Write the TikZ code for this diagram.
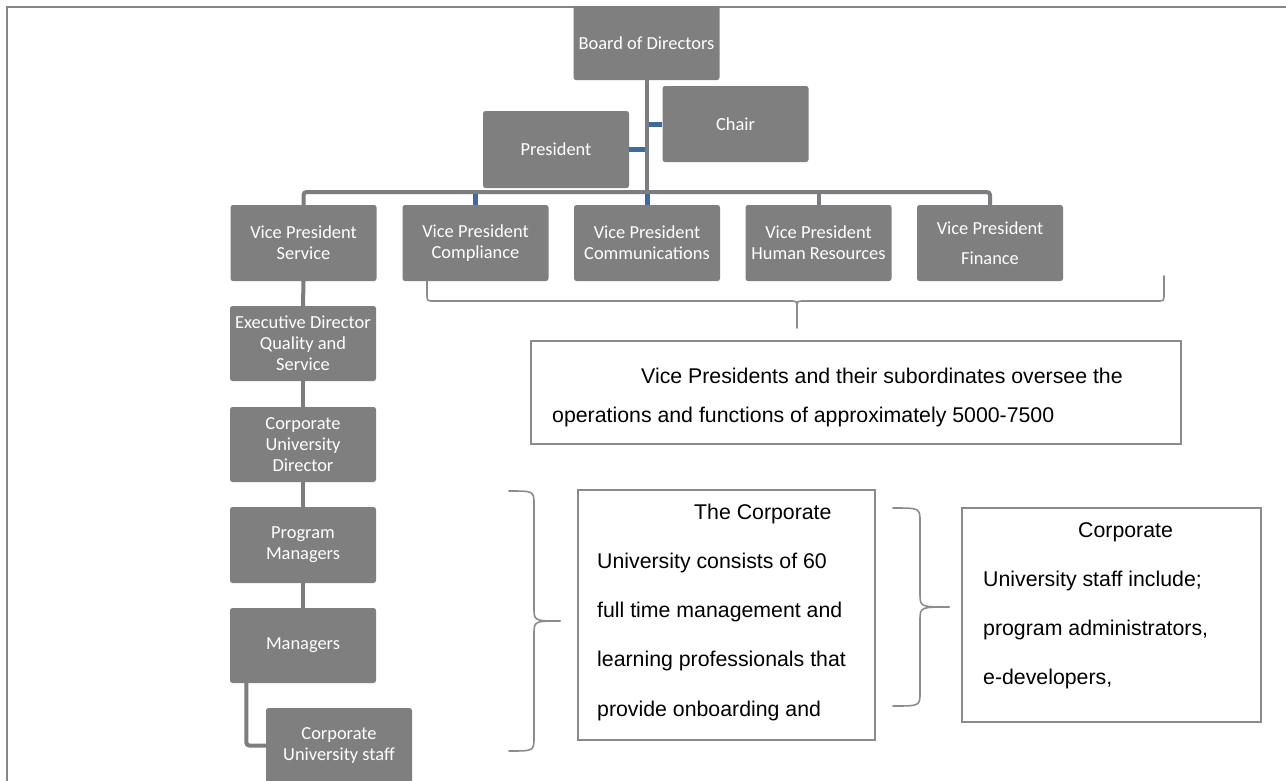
\documentclass[tikz,border=0pt]{standalone}
\usepackage{fontspec}
\setmainfont{Liberation Sans}
\newfontfamily\boxfont{Carlito}
\usetikzlibrary{calc}
\definecolor{boxgray}{HTML}{7F7F7F}
\definecolor{linegray}{HTML}{7B7D80}
\definecolor{stubblue}{HTML}{3E6A9E}
\definecolor{framegray}{HTML}{858585}
\definecolor{bracegray}{HTML}{8C8C8C}
\definecolor{tboxgray}{HTML}{8A8A8A}
\begin{document}
\begin{tikzpicture}[x=1pt,y=-1pt,
  orgbox/.style={fill=boxgray, rounded corners=2.5pt, inner sep=0pt,
    minimum width=146pt, minimum height=76pt, text=white, align=center,
    font=\boxfont\fontsize{18.4}{21}\selectfont},
  conn/.style={draw=linegray, line width=4pt},
  blueconn/.style={draw=stubblue, line width=5pt},
  bracepath/.style={draw=bracegray, line width=1.6pt, line cap=round, line join=round},
  tbox/.style={draw=tboxgray, line width=1.4pt, fill=white, inner sep=0pt},
  tline/.style={anchor=west, inner sep=0pt, font=\fontsize{21.3}{24}\selectfont, text=black}]
\useasboundingbox (0,0) rectangle (1286,780);
\clip (0,0) rectangle (1286,780);
\fill[white] (0,0) rectangle (1286,780);
% frame
\draw[framegray, line width=2pt] (6.8,800) -- (6.8,6.5) -- (1300,6.5);

% nodes
\node[orgbox, minimum height=74pt] (board) at (646.5,43) {Board of Directors};
\node[orgbox] (chair) at (735.5,124) {Chair};
\node[orgbox, minimum height=77pt] (pres) at (556,149.5) {President};
\node[orgbox] (vps) at (303.5,243) {Vice President\\Service};
\node[orgbox] (vpc) at (475.5,243) {Vice President\\Compliance};
\node[orgbox] (vpm) at (647,243) {Vice President\\Communications};
\node[orgbox] (vph) at (818.5,243) {Vice President\\Human Resources};
\node[orgbox] (vpf) at (990,243) {Vice President\\[9pt]Finance};
\node[orgbox, minimum height=75pt] (exec) at (303,343.5) {Executive Director\\Quality and\\Service};
\node[orgbox, minimum height=75pt] (cud) at (303,444.5) {Corporate\\University\\Director};
\node[orgbox] (pm) at (303,545) {Program\\Managers};
\node[orgbox, minimum height=75pt] (mgr) at (303,645.5) {Managers};
\node[orgbox, minimum height=75pt] (staff) at (339,745.5) {Corporate\\University staff};

% connectors
\coordinate (barL) at (303.5,192);
\draw[conn] (board.south) -- (board.south |- barL);
\draw[conn, rounded corners=3pt] (vps.north) -- (vps.north |- barL) -- (vpf.north |- barL) -- (vpf.north);
\draw[conn] (vph.north |- barL) -- (vph.north);
\draw[blueconn] ([yshift=-2pt]vpc.north |- barL) -- (vpc.north);
\draw[blueconn] ([yshift=-2pt]vpm.north |- barL) -- (vpm.north);
\draw[blueconn] ([xshift=2pt]board.south |- chair.west) -- (chair.west);
\draw[blueconn] (pres.east) -- ([xshift=-2pt]pres.east -| board.south);
\draw[conn] (vps.south) -- (exec.north);
\draw[conn] (exec.south) -- (cud.north);
\draw[conn] (cud.south) -- (pm.north);
\draw[conn] (pm.south) -- (mgr.north);
\draw[conn, rounded corners=3pt] ([xshift=16.5pt]mgr.south west) |- (staff.west);

% braces
\draw[bracepath] (427,281) -- (427,294) .. controls (427,301) .. (434,301)
  -- (790,301) .. controls (797,301) .. (797,308) -- (797,328);
\draw[bracepath] (797,308) .. controls (797,301) .. (804,301)
  -- (1157,301) .. controls (1164,301) .. (1164,294) -- (1164,276);
\draw[bracepath] (509,491) .. controls (534,491) .. (534,505) -- (534,607)
  .. controls (534,621) .. (560,621);
\draw[bracepath] (560,621) .. controls (534,621) .. (534,635) -- (534,737)
  .. controls (534,751) .. (509,751);
\draw[bracepath] (893,508) .. controls (920,508) .. (920,522) -- (920,593)
  .. controls (920,607) .. (949,607);
\draw[bracepath] (949,607) .. controls (920,607) .. (920,621) -- (920,692)
  .. controls (920,706) .. (893,706);

% text boxes
\node[tbox, minimum width=650pt, minimum height=103pt] (t1) at (856,392.5) {};
\node[tline] (t1a) at (641,376) {Vice Presidents and their subordinates oversee the};
\node[tline] (t1b) at (552,417) {operations and functions of approximately 5000-7500};

\node[tbox, minimum width=297pt, minimum height=250pt] (t2) at (726.5,615) {};
\node[tline] (t2a) at (694,514) {The Corporate};
\node[tline] (t2b) at (597,563) {University consists of 60};
\node[tline] (t2c) at (597,612) {full time management and};
\node[tline] (t2d) at (597,661) {learning professionals that};
\node[tline] (t2e) at (597,711) {provide onboarding and};

\node[tbox, minimum width=299pt, minimum height=214pt] (t3) at (1111.5,615) {};
\node[tline] (t3a) at (1078,532) {Corporate};
\node[tline] (t3b) at (983,581) {University staff include;};
\node[tline] (t3c) at (983,630) {program administrators,};
\node[tline] (t3d) at (983,679) {e-developers,};
\end{tikzpicture}
\end{document}
